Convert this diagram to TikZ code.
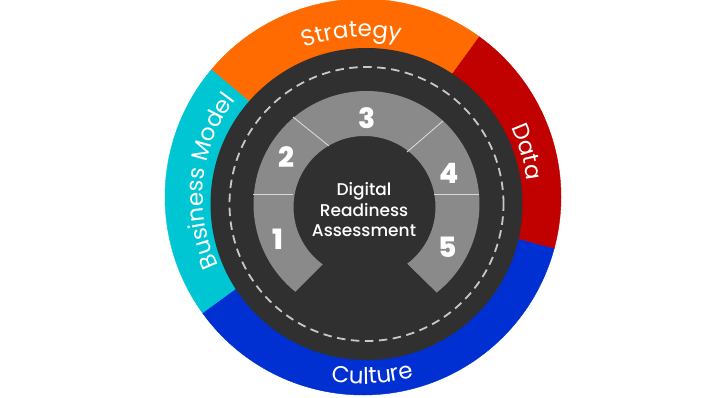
\documentclass[tikz,border=0pt]{standalone}
\usepackage{fontspec}
\setmainfont{Poppins}
\newfontfamily\ringfont{Poppins}
\newfontfamily\midfont{Poppins Medium}
\newfontfamily\numfont{Poppins ExtraBold}
\usetikzlibrary{decorations.text,calc}
\definecolor{cOrange}{HTML}{FF6B00}
\definecolor{cRed}{HTML}{C10000}
\definecolor{cBlue}{HTML}{0030D2}
\definecolor{cCyan}{HTML}{00C6D3}
\definecolor{cDark}{HTML}{303030}
\definecolor{cGray}{HTML}{8A8A8A}
\definecolor{cDash}{HTML}{C8C8C8}
\definecolor{cDiv}{HTML}{D8D8D8}
\tikzset{
  seg/.style={fill=#1, draw=#1, line width=0.4pt},
  divline/.style={draw=cDiv, line width=0.9pt},
  numtxt/.style={text=white, font=\numfont\fontsize{28}{28}\selectfont, inner sep=0pt},
  ringtxt/.style={decorate, decoration={text along path, text align=center, text color=white, text={|\ringfont\fontsize{23}{23}\selectfont|#1}}}
}
\begin{document}
\begin{tikzpicture}[x=1pt,y=1pt]
\useasboundingbox (0,0) rectangle (705,397);
\fill[white] (0,0) rectangle (705,397);
\coordinate (O) at (363,200);
\coordinate (D) at (366.5,193);
\coordinate (I) at (364.5,190);
% outer ring
\filldraw[seg=cOrange] (O) -- ++(54:198) arc[start angle=54,end angle=140,radius=198] -- cycle;
\filldraw[seg=cCyan] (O) -- ++(140:198) arc[start angle=140,end angle=216,radius=198] -- cycle;
\filldraw[seg=cBlue] (O) -- ++(216:198) arc[start angle=216,end angle=345,radius=198] -- cycle;
\filldraw[seg=cRed] (O) -- ++(-15:198) arc[start angle=-15,end angle=54,radius=198] -- cycle;
% dark disc
\fill[cDark] (D) circle[radius=156];
\draw[cDash, line width=1.8pt, dash pattern=on 8.5pt off 5.5pt] (D) circle[radius=137];
% gray ring
\fill[cGray] ($(D)+(231:113)$) arc[start angle=231,end angle=-51.6,radius=113]
  -- ($(I)+(-53:71)$) arc[start angle=-53,end angle=234,radius=71] -- cycle;
% dividers
\coordinate (a1) at (253,203); \coordinate (a2) at (293,203);
\coordinate (b1) at (293,280); \coordinate (b2) at (329,251);
\coordinate (c1) at (443,276); \coordinate (c2) at (407,245);
\coordinate (d1) at (479,203); \coordinate (d2) at (434,203);
\draw[divline] (a1) -- (a2);
\draw[divline] (b1) -- (b2);
\draw[divline] (c1) -- (c2);
\draw[divline] (d1) -- (d2);
% numbers
\node[numtxt] (n1) at (277.5,157.5) {1};
\node[numtxt] (n2) at (286,239.5) {2};
\node[numtxt] (n3) at (367.5,279) {3};
\node[numtxt] (n4) at (449.5,223.5) {4};
\node[numtxt] (n5) at (448,150) {5};
% center text
\node[text=white, align=center, font=\midfont\fontsize{17}{20.5}\selectfont] (ctr) at (364,187) {Digital\\Readiness\\Assessment};
% ring labels
\path[ringtxt=Strategy] (O) ++(134:160) arc[start angle=134,end angle=54,radius=160];
\path[ringtxt=Data] (O) ++(48:164) arc[start angle=48,end angle=-17,radius=164];
\path[ringtxt=Business Model] (O) ++(226:160) arc[start angle=226,end angle=122,radius=160];
\path[ringtxt=Culture] (O) ++(233:187) arc[start angle=233,end angle=313,radius=187];
\end{tikzpicture}
\end{document}
